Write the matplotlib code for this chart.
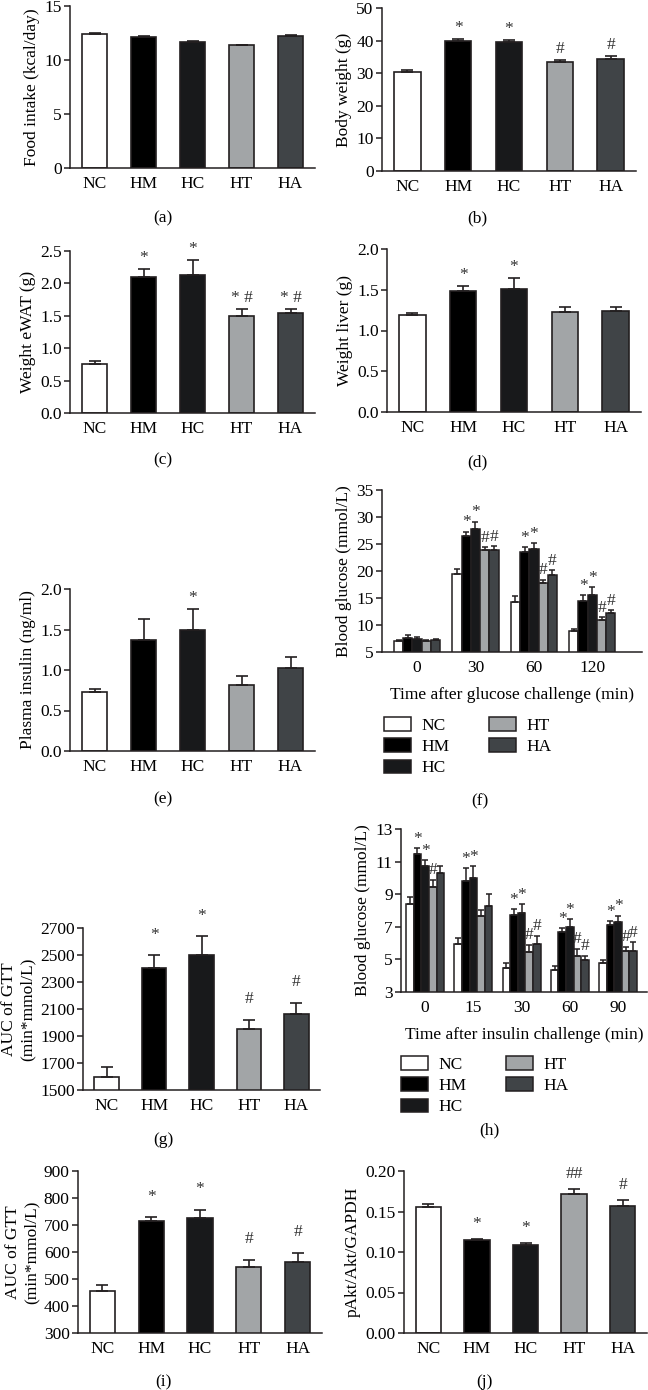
import numpy as np
import matplotlib
matplotlib.use('Agg')
import matplotlib.pyplot as plt
from matplotlib.patches import Patch

plt.rcParams['font.family'] = ['Liberation Serif', 'DejaVu Serif']
FS = 12.5
plt.rcParams['font.size'] = FS

groups = ['NC', 'HM', 'HC', 'HT', 'HA']
colors = ['#ffffff', '#000000', '#18191b', '#a2a5a7', '#404447']
edge = '#231f20'

# (a) food intake
food_mean = [12.4, 12.15, 11.7, 11.35, 12.25]
food_err = [0.1, 0.06, 0.05, 0.04, 0.04]
food_sig = ['', '', '', '', '']

# (b) body weight
bw_mean = [30.5, 39.9, 39.6, 33.3, 34.4]
bw_err = [0.6, 0.6, 0.6, 0.8, 1.0]
bw_sig = ['', '*', '*', '#', '#']

# (c) eWAT
ewat_mean = [0.75, 2.10, 2.13, 1.49, 1.55]
ewat_err = [0.06, 0.12, 0.23, 0.12, 0.06]
ewat_sig = ['', '*', '*', '* #', '* #']

# (d) liver
liver_mean = [1.19, 1.49, 1.51, 1.23, 1.24]
liver_err = [0.03, 0.06, 0.14, 0.06, 0.05]
liver_sig = ['', '*', '*', '', '']

# (e) plasma insulin
ins_mean = [0.73, 1.37, 1.49, 0.82, 1.03]
ins_err = [0.04, 0.26, 0.26, 0.11, 0.13]
ins_sig = ['', '', '*', '', '']

# (f) GTT, rows = groups, cols = time points
gtt_times = ['0', '30', '60', '120']
gtt_mean = [[7.0, 19.5, 14.2, 8.8],
            [7.6, 26.4, 23.5, 14.5],
            [7.4, 27.7, 24.1, 15.6],
            [7.1, 23.9, 17.8, 10.9],
            [7.3, 23.9, 19.3, 12.3]]
gtt_err = [[0.2, 0.9, 1.1, 0.45],
           [0.6, 0.9, 0.9, 1.0],
           [0.3, 1.4, 1.1, 1.4],
           [0.2, 0.5, 0.6, 0.6],
           [0.2, 0.7, 0.9, 0.4]]
gtt_sig = [['', '', '', ''],
           ['', '*', '*', '*'],
           ['', '*', '*', '*'],
           ['', '#', '#', '#'],
           ['', '#', '#', '#']]

# (g) AUC GTT
aucg_mean = [1598, 2405, 2500, 1950, 2065]
aucg_err = [72, 95, 140, 70, 82]
aucg_sig = ['', '*', '*', '#', '#']

# (h) ITT
itt_times = ['0', '15', '30', '60', '90']
itt_mean = [[8.4, 5.94, 4.5, 4.38, 4.8],
            [11.46, 9.84, 7.72, 6.7, 7.1],
            [10.74, 9.98, 7.83, 6.98, 7.27],
            [9.43, 7.66, 5.46, 5.18, 5.5],
            [10.33, 8.28, 5.94, 4.95, 5.52]]
itt_err = [[0.4, 0.4, 0.3, 0.22, 0.17],
           [0.37, 0.76, 0.35, 0.22, 0.25],
           [0.36, 0.72, 0.57, 0.5, 0.41],
           [0.47, 0.37, 0.44, 0.48, 0.27],
           [0.37, 0.76, 0.51, 0.27, 0.52]]
itt_sig = [['', '', '', '', ''],
           ['*', '*', '*', '*', '*'],
           ['*', '*', '*', '*', '*'],
           ['#', '', '#', '#', '#'],
           ['', '', '#', '#', '#']]

# (i) AUC ITT
auci_mean = [457, 716, 727, 546, 564]
auci_err = [19, 12, 30, 26, 33]
auci_sig = ['', '*', '*', '#', '#']

# (j) pAkt
akt_mean = [0.155, 0.115, 0.109, 0.171, 0.157]
akt_err = [0.004, 0.001, 0.002, 0.007, 0.007]
akt_sig = ['', '*', '*', '##', '#']

W, H = 648, 1390
fig = plt.figure(figsize=(W / 100, H / 100), dpi=100)


def add_ax(x0, x1, ytop, ybot):
    return fig.add_axes([x0 / W, 1 - ybot / H, (x1 - x0) / W, (ybot - ytop) / H])


def style(ax):
    for s in ['top', 'right']:
        ax.spines[s].set_visible(False)
    for s in ['left', 'bottom']:
        ax.spines[s].set_linewidth(1.1)
        ax.spines[s].set_color(edge)
    ax.tick_params(axis='y', direction='out', length=4, width=1.1, color=edge, labelsize=FS, pad=2)
    ax.tick_params(axis='x', length=0, labelsize=FS, pad=6)


def bar_panel(ax, means, errs, sig, ylim, yticks, ylabel, fmt, pad):
    x = np.arange(len(groups))
    ax.bar(x, means, width=0.52, color=colors, edgecolor=edge, linewidth=1.2, zorder=2)
    ax.errorbar(x, means, yerr=[np.zeros(len(errs)), errs], fmt='none', ecolor=edge,
                elinewidth=1.2, capsize=4.5, capthick=1.2, zorder=3)
    for xi, m, e, s in zip(x, means, errs, sig):
        if s:
            ax.annotate(s, (xi, m + e), xytext=(0, pad), textcoords='offset points',
                        ha='center', va='bottom', fontsize=FS, color='#333333')
    ax.set_xlim(-0.5, 4.5)
    ax.set_ylim(*ylim)
    ax.set_yticks(yticks)
    ax.set_yticklabels([fmt.format(v) for v in yticks])
    ax.set_xticks(x)
    ax.set_xticklabels(groups)
    ax.set_ylabel(ylabel, fontsize=FS, labelpad=3)
    style(ax)


def group_panel(ax, times, means, errs, sig, ylim, yticks, ylabel, xlabel, xlim, pad):
    n = len(groups)
    bw = 0.158
    xt = np.arange(len(times))
    for i in range(n):
        xs = xt + (i - (n - 1) / 2) * bw
        ax.bar(xs, means[i], width=bw, color=colors[i], edgecolor=edge, linewidth=1.1, zorder=2)
        ax.errorbar(xs, means[i], yerr=[np.zeros(len(times)), errs[i]], fmt='none', ecolor=edge,
                    elinewidth=1.1, capsize=2.2, capthick=1.1, zorder=3)
        for xv, m, e, s in zip(xs, means[i], errs[i], sig[i]):
            if s:
                ax.annotate(s, (xv, m + e), xytext=(0, pad), textcoords='offset points',
                            ha='center', va='bottom', fontsize=FS, color='#333333')
    ax.set_xlim(*xlim)
    ax.set_ylim(*ylim)
    ax.set_yticks(yticks)
    ax.set_xticks(xt)
    ax.set_xticklabels(times)
    ax.set_ylabel(ylabel, fontsize=FS, labelpad=3)
    ax.set_xlabel(xlabel, fontsize=FS, labelpad=8)
    style(ax)


def legend_at(x, y):
    handles = [Patch(facecolor=c, edgecolor=edge, linewidth=1.1, label=g) for g, c in zip(groups, colors)]
    fig.legend(handles=handles, ncol=2, loc='upper left', bbox_to_anchor=(x / W, 1 - y / H),
               frameon=False, handlelength=1.55, handleheight=0.85, columnspacing=2.3,
               labelspacing=0.25, handletextpad=0.6, borderaxespad=0, borderpad=0, fontsize=FS)


ax = add_ax(70, 315, 6, 168)
bar_panel(ax, food_mean, food_err, food_sig, (0, 15), [0, 5, 10, 15], 'Food intake (kcal/day)', '{:.0f}', 2)
ax = add_ax(382, 636, 8, 171)
bar_panel(ax, bw_mean, bw_err, bw_sig, (0, 50), [0, 10, 20, 30, 40, 50], 'Body weight (g)', '{:.0f}', 2)
ax = add_ax(70, 315, 251, 413)
bar_panel(ax, ewat_mean, ewat_err, ewat_sig, (0, 2.5), [0, 0.5, 1.0, 1.5, 2.0, 2.5], 'Weight eWAT (g)', '{:.1f}', 2)
ax = add_ax(387, 641, 249, 412)
bar_panel(ax, liver_mean, liver_err, liver_sig, (0, 2.0), [0, 0.5, 1.0, 1.5, 2.0], 'Weight liver (g)', '{:.1f}', 2)
ax = add_ax(70, 315, 589, 751)
bar_panel(ax, ins_mean, ins_err, ins_sig, (0, 2.0), [0, 0.5, 1.0, 1.5, 2.0], 'Plasma insulin (ng/ml)', '{:.1f}', 2)

ax = add_ax(382, 642, 490, 652)
group_panel(ax, gtt_times, gtt_mean, gtt_err, gtt_sig, (5, 35), [5, 10, 15, 20, 25, 30, 35],
            'Blood glucose (mmol/L)', 'Time after glucose challenge (min)', (-0.6, 3.85), 1)
legend_at(384, 717)

ax = add_ax(83, 320, 928, 1090)
bar_panel(ax, aucg_mean, aucg_err, aucg_sig, (1500, 2700), [1500, 1700, 1900, 2100, 2300, 2500, 2700],
          'AUC of GTT\n(min*mmol/L)', '{:.0f}', 9)

ax = add_ax(401, 647, 829, 992)
group_panel(ax, itt_times, itt_mean, itt_err, itt_sig, (3, 13), [3, 5, 7, 9, 11, 13],
            'Blood glucose (mmol/L)', 'Time after insulin challenge (min)', (-0.5, 4.6), 1)
legend_at(401, 1056)

ax = add_ax(78, 322, 1171, 1333)
bar_panel(ax, auci_mean, auci_err, auci_sig, (300, 900), [300, 400, 500, 600, 700, 800, 900],
          'AUC of GTT\n(min*mmol/L)', '{:.0f}', 9)
ax = add_ax(404, 647, 1171, 1333)
bar_panel(ax, akt_mean, akt_err, akt_sig, (0, 0.20), [0, 0.05, 0.10, 0.15, 0.20], 'pAkt/Akt/GAPDH', '{:.2f}', 5)

captions = [('(a)', 163, 218), ('(b)', 477, 218), ('(c)', 163, 460), ('(d)', 477, 462),
            ('(e)', 163, 799), ('(f)', 480, 801), ('(g)', 163, 1140), ('(h)', 489, 1130),
            ('(i)', 163, 1382), ('(j)', 484, 1382)]
for t, x, y in captions:
    fig.text(x / W, 1 - y / H, t, ha='center', va='center', fontsize=FS)

fig.savefig('out.png', dpi=100)
